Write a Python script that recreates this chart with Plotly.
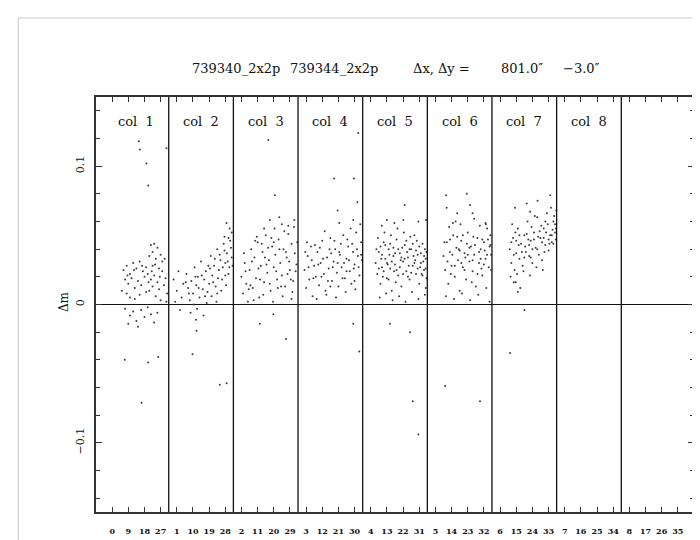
import plotly.graph_objects as go

# ---------------- data ----------------
# Each panel: list of (offset within panel [0..4], delta_m)
panel1 = [
    (2.15, 0.118), (2.21, 0.112), (2.62, 0.102), (2.73, 0.086), (3.86, 0.113),
    (1.28, -0.040), (2.73, -0.042), (3.35, -0.038), (2.32, -0.071),
    (2.9, 0.043), (3.1, 0.044), (3.3, 0.041), (3.0, 0.038), (3.5, 0.036), (2.8, 0.035),
    (3.6, 0.031), (3.2, 0.033),
    (1.2, 0.025), (1.4, 0.028), (1.6, 0.022), (1.8, 0.030), (2.0, 0.026), (2.2, 0.031),
    (2.4, 0.024), (1.3, 0.018), (1.5, 0.015), (1.7, 0.019), (1.9, 0.012), (2.1, 0.017),
    (2.3, 0.014), (2.5, 0.020), (1.1, 0.010), (1.4, 0.008), (1.6, 0.005), (1.9, 0.004),
    (2.2, 0.007), (2.6, 0.009),
    (2.7, 0.022), (2.9, 0.018), (3.0, 0.013), (3.1, 0.021), (3.3, 0.016), (3.4, 0.011),
    (3.6, 0.024), (3.8, 0.019), (3.9, 0.008), (2.8, 0.010), (3.2, 0.006), (3.5, 0.003),
    (3.7, 0.014), (2.6, 0.027), (3.0, 0.028), (3.4, 0.026), (3.85, 0.002),
    (1.3, -0.003), (1.6, -0.008), (1.8, -0.005), (2.0, -0.012), (2.3, -0.004),
    (2.5, -0.009), (2.7, -0.002), (2.9, -0.007), (3.1, -0.013), (3.3, -0.006),
    (1.5, -0.014), (2.1, -0.016),
    (1.45, 0.021), (1.85, 0.025), (2.35, 0.028), (2.75, 0.016), (3.15, 0.029),
    (3.45, 0.020), (3.75, 0.033), (2.95, 0.024),
]
panel2 = [
    (3.58, 0.059), (3.77, 0.055), (1.47, -0.036), (1.72, -0.019), (1.68, -0.011),
    (3.16, -0.058), (3.58, -0.057),
    (0.3, 0.018), (0.5, 0.010), (0.6, 0.024), (0.8, 0.005), (0.9, 0.015), (0.4, 0.002),
    (0.7, -0.004),
    (1.1, 0.022), (1.2, 0.012), (1.3, 0.003), (1.4, 0.017), (1.5, 0.008), (1.6, 0.027),
    (1.7, 0.014), (1.8, 0.020), (1.9, 0.005), (2.0, 0.031), (2.1, 0.011), (2.2, 0.018),
    (2.3, 0.024), (2.4, 0.009), (2.5, 0.015), (1.35, -0.006), (1.75, -0.003),
    (2.15, -0.008), (1.55, 0.000), (2.35, 0.001),
    (2.6, 0.035), (2.7, 0.021), (2.8, 0.028), (2.9, 0.013), (3.0, 0.040), (3.1, 0.025),
    (3.2, 0.032), (3.3, 0.018), (3.4, 0.044), (3.5, 0.030), (3.6, 0.037), (3.7, 0.022),
    (3.8, 0.046), (3.9, 0.034), (3.25, 0.010), (3.55, 0.014), (3.75, 0.027),
    (2.65, 0.006), (2.95, 0.002), (3.45, 0.039), (3.85, 0.041),
    (2.55, 0.026), (2.75, 0.016), (2.85, 0.033), (3.05, 0.019), (3.15, 0.036),
    (3.35, 0.027), (3.65, 0.031), (3.95, 0.028), (3.0, 0.008), (3.5, 0.021),
    (1.85, 0.012), (2.05, 0.021), (2.25, 0.006), (2.45, 0.028), (1.65, 0.020),
    (1.25, 0.008), (1.05, 0.016), (3.7, 0.048), (3.9, 0.052), (3.45, 0.049),
]
panel3 = [
    (2.16, 0.119), (2.57, 0.079), (2.26, 0.061), (2.84, 0.063), (3.40, 0.057),
    (3.77, 0.061), (1.64, -0.014), (2.47, -0.007), (3.25, -0.025),
    (0.5, 0.020), (0.6, 0.008), (0.7, 0.030), (0.8, 0.015), (0.9, 0.002), (1.0, 0.025),
    (1.1, 0.040), (1.2, 0.012), (1.3, 0.034), (1.4, 0.019), (1.5, 0.045), (1.6, 0.005),
    (1.7, 0.028), (1.8, 0.038), (1.9, 0.016), (2.0, 0.050), (2.1, 0.023), (2.2, 0.032),
    (2.3, 0.010), (2.4, 0.042), (2.5, 0.027), (2.6, 0.036), (2.7, 0.018), (2.8, 0.047),
    (2.9, 0.030), (3.0, 0.021), (3.1, 0.040), (3.2, 0.013), (3.3, 0.034), (3.4, 0.051),
    (3.5, 0.025), (3.6, 0.044), (3.7, 0.017), (3.8, 0.037), (3.9, 0.029),
    (1.25, 0.003), (1.85, 0.007), (2.45, 0.002), (3.05, 0.006), (3.65, 0.009),
    (1.55, 0.026), (2.15, 0.041), (2.75, 0.012), (3.35, 0.022), (3.95, 0.045),
    (1.05, 0.014), (2.55, 0.055), (3.15, 0.053), (3.75, 0.056), (2.35, 0.048),
    (0.65, 0.037), (1.45, 0.049),
    (0.75, 0.024), (0.95, 0.011), (1.15, 0.031), (1.35, 0.046), (1.65, 0.018),
    (1.95, 0.034), (2.05, 0.029), (2.25, 0.015), (2.65, 0.024), (2.85, 0.040),
    (2.95, 0.013), (3.25, 0.038), (3.45, 0.031), (3.55, 0.018), (3.85, 0.024),
    (2.5, 0.045), (1.75, 0.044), (3.0, 0.058), (1.9, 0.055), (3.6, 0.004),
]
panel4 = [
    (3.73, 0.124), (2.23, 0.091), (3.46, 0.091), (3.67, 0.074), (2.45, 0.068),
    (3.42, 0.061), (2.55, 0.059), (3.42, -0.014), (3.79, -0.034),
    (0.4, 0.025), (0.5, 0.012), (0.6, 0.035), (0.7, 0.018), (0.8, 0.042), (0.9, 0.006),
    (1.0, 0.028), (1.1, 0.020), (1.2, 0.038), (1.3, 0.014), (1.4, 0.030), (1.5, 0.046),
    (1.6, 0.022), (1.7, 0.010), (1.8, 0.034), (1.9, 0.026), (2.0, 0.048), (2.1, 0.017),
    (2.2, 0.031), (2.3, 0.040), (2.4, 0.023), (2.5, 0.013), (2.6, 0.036), (2.7, 0.027),
    (2.8, 0.050), (2.9, 0.019), (3.0, 0.033), (3.1, 0.042), (3.2, 0.024), (3.3, 0.015),
    (3.4, 0.038), (3.5, 0.029), (3.6, 0.052), (3.7, 0.035), (3.8, 0.021), (3.9, 0.045),
    (3.95, 0.032), (1.15, 0.004), (1.75, 0.007), (2.35, 0.005), (2.95, 0.009),
    (3.55, 0.011), (0.85, 0.032), (1.45, 0.020), (2.05, 0.037), (2.65, 0.044),
    (3.25, 0.055), (3.85, 0.058), (1.65, 0.053), (3.05, 0.047), (0.55, 0.045),
    (2.45, 0.030), (3.45, 0.026),
    (0.45, 0.038), (0.65, 0.027), (0.95, 0.019), (1.05, 0.043), (1.25, 0.029),
    (1.35, 0.041), (1.55, 0.033), (1.85, 0.017), (1.95, 0.040), (2.15, 0.027),
    (2.25, 0.046), (2.55, 0.038), (2.75, 0.019), (2.85, 0.030), (3.15, 0.032),
    (3.35, 0.044), (3.5, 0.017), (3.65, 0.040), (3.75, 0.027), (3.9, 0.036),
    (2.0, 0.013), (3.0, 0.024),
]
panel5 = [
    (2.60, 0.072), (1.18, 0.057), (1.49, 0.061), (1.96, 0.059), (2.52, 0.061),
    (3.45, 0.060), (3.92, 0.061), (1.69, -0.014), (2.93, -0.020), (3.10, -0.070),
    (3.45, -0.094),
    (0.8, 0.030), (0.9, 0.022), (1.0, 0.038), (1.1, 0.015), (1.2, 0.027), (1.3, 0.045),
    (1.4, 0.033), (1.5, 0.019), (1.6, 0.040), (1.7, 0.026), (1.8, 0.010), (1.9, 0.035),
    (2.0, 0.029), (2.1, 0.047), (2.2, 0.021), (2.3, 0.037), (2.4, 0.013), (2.5, 0.031),
    (2.6, 0.043), (2.7, 0.024), (2.8, 0.034), (2.9, 0.018), (3.0, 0.040), (3.1, 0.028),
    (3.2, 0.050), (3.3, 0.022), (3.4, 0.036), (3.5, 0.015), (3.6, 0.030), (3.7, 0.044),
    (3.8, 0.025), (3.9, 0.033), (3.95, 0.019),
    (1.05, 0.005), (1.45, 0.008), (1.85, 0.003), (2.25, 0.006), (2.65, 0.002),
    (3.05, 0.009), (3.45, 0.004), (3.85, 0.007),
    (1.15, 0.033), (1.55, 0.029), (1.95, 0.024), (2.35, 0.032), (2.75, 0.038),
    (3.15, 0.035), (3.55, 0.027), (3.75, 0.031), (1.25, 0.020), (1.65, 0.036),
    (2.05, 0.016), (2.45, 0.041), (2.85, 0.028), (3.25, 0.032), (3.65, 0.022),
    (1.35, 0.052), (2.15, 0.055), (2.95, 0.049), (3.35, 0.046), (0.95, 0.048),
    (1.75, 0.050), (2.55, 0.052), (3.85, 0.040), (3.9, 0.012),
    (0.85, 0.040), (1.0, 0.026), (1.1, 0.042), (1.2, 0.036), (1.3, 0.024), (1.4, 0.043),
    (1.5, 0.030), (1.6, 0.018), (1.7, 0.044), (1.8, 0.031), (1.9, 0.041), (2.0, 0.037),
    (2.1, 0.025), (2.2, 0.040), (2.3, 0.027), (2.4, 0.034), (2.5, 0.022), (2.6, 0.033),
    (2.7, 0.046), (2.8, 0.020), (2.9, 0.040), (3.0, 0.023), (3.1, 0.044), (3.2, 0.030),
    (3.3, 0.039), (3.4, 0.026), (3.5, 0.042), (3.6, 0.037), (3.7, 0.021), (3.8, 0.035),
    (3.9, 0.026), (3.95, 0.038),
]
panel6 = [
    (1.16, 0.079), (2.44, 0.080), (1.20, 0.070), (2.64, 0.072), (1.10, -0.059),
    (3.26, -0.070), (2.80, 0.066), (1.58, 0.059), (3.63, 0.058),
    (1.0, 0.035), (1.1, 0.025), (1.2, 0.045), (1.3, 0.015), (1.4, 0.038), (1.5, 0.028),
    (1.6, 0.050), (1.7, 0.020), (1.8, 0.041), (1.9, 0.032), (2.0, 0.010), (2.1, 0.046),
    (2.2, 0.027), (2.3, 0.037), (2.4, 0.018), (2.5, 0.052), (2.6, 0.031), (2.7, 0.042),
    (2.8, 0.024), (2.9, 0.036), (3.0, 0.013), (3.1, 0.048), (3.2, 0.030), (3.3, 0.040),
    (3.4, 0.021), (3.5, 0.045), (3.6, 0.033), (3.7, 0.055), (3.8, 0.027), (3.9, 0.043),
    (3.95, 0.036),
    (1.15, 0.006), (1.65, 0.004), (2.15, 0.008), (2.65, 0.003), (3.15, 0.007),
    (3.65, 0.012), (3.85, 0.002),
    (1.35, 0.056), (1.75, 0.060), (2.05, 0.058), (2.45, 0.044), (2.85, 0.049),
    (3.25, 0.057), (3.55, 0.039), (3.75, 0.047), (1.45, 0.022), (1.95, 0.040),
    (2.35, 0.034), (2.75, 0.016), (3.35, 0.026), (3.9, 0.050),
    (1.85, 0.066), (2.9, 0.062), (3.6, 0.059),
    (1.05, 0.045), (1.25, 0.031), (1.4, 0.047), (1.55, 0.036), (1.7, 0.028),
    (1.85, 0.049), (2.0, 0.039), (2.2, 0.050), (2.3, 0.025), (2.5, 0.036),
    (2.6, 0.041), (2.8, 0.032), (2.95, 0.043), (3.1, 0.022), (3.2, 0.038),
    (3.4, 0.047), (3.5, 0.029), (3.7, 0.036), (3.85, 0.042), (3.95, 0.025),
    (2.1, 0.030), (3.3, 0.033),
]
panel7 = [
    (3.60, 0.079), (2.82, 0.075), (2.15, 0.073), (1.43, 0.070), (2.36, 0.067),
    (3.98, 0.068), (1.12, -0.035), (2.01, -0.004), (1.47, 0.016), (1.60, 0.009),
    (1.1, 0.040), (1.2, 0.030), (1.3, 0.048), (1.4, 0.025), (1.5, 0.037), (1.6, 0.055),
    (1.7, 0.033), (1.8, 0.044), (1.9, 0.028), (2.0, 0.050), (2.1, 0.038), (2.2, 0.060),
    (2.3, 0.035), (2.4, 0.046), (2.5, 0.030), (2.6, 0.052), (2.7, 0.041), (2.8, 0.063),
    (2.9, 0.036), (3.0, 0.048), (3.1, 0.032), (3.2, 0.055), (3.3, 0.043), (3.4, 0.066),
    (3.5, 0.039), (3.6, 0.050), (3.7, 0.045), (3.8, 0.060), (3.9, 0.052), (3.95, 0.047),
    (1.15, 0.020), (1.35, 0.016), (1.55, 0.022), (1.75, 0.012), (1.95, 0.024),
    (2.35, 0.021), (2.75, 0.027), (3.15, 0.025),
    (1.25, 0.058), (1.65, 0.043), (2.05, 0.042), (2.45, 0.056), (2.85, 0.049),
    (3.25, 0.038), (3.45, 0.058), (3.65, 0.070), (3.85, 0.064), (1.45, 0.052),
    (2.25, 0.047), (3.05, 0.057), (3.75, 0.054), (2.65, 0.064), (3.55, 0.044),
    (1.2, 0.045), (1.35, 0.036), (1.5, 0.046), (1.7, 0.050), (1.85, 0.038),
    (2.0, 0.034), (2.15, 0.051), (2.3, 0.043), (2.5, 0.040), (2.6, 0.047),
    (2.8, 0.040), (2.95, 0.053), (3.1, 0.045), (3.2, 0.048), (3.35, 0.052),
    (3.5, 0.047), (3.7, 0.050), (3.8, 0.044), (3.9, 0.058), (3.95, 0.055),
    (3.3, 0.060), (2.4, 0.034),
]
panel8 = []
panel9 = []
panels = [panel1, panel2, panel3, panel4, panel5, panel6, panel7, panel8, panel9]

panel_labels = ["col  1", "col  2", "col  3", "col  4", "col  5",
                "col  6", "col  7", "col  8", ""]
# tick labels: 4 per panel, panel k -> k, k+9, k+18, k+27
x_tick_labels = ["0", "9", "18", "27", "1", "10", "19", "28", "2", "11", "20", "29",
                 "3", "12", "21", "30", "4", "13", "22", "31", "5", "14", "23", "32",
                 "6", "15", "24", "33", "7", "16", "25", "34", "8", "17", "26", "35"]
title_parts = ["739340_2x2p", "739344_2x2p", "Δx, Δy =", "801.0″", "−3.0″"]
title_px = [236, 335, 443, 523, 583]

# ---------------- figure ----------------
xs, ys = [], []
for k, pts in enumerate(panels):
    for off, dm in pts:
        xs.append(4 * k - 0.5 + off)
        ys.append(dm)

fig = go.Figure()
fig.add_trace(go.Scatter(x=xs, y=ys, mode="markers",
                         marker=dict(size=2.0, color="#3c3c3c", line=dict(width=0)),
                         hoverinfo="skip", showlegend=False))

# page body has an 8px margin: figure pixel = page pixel - 8
OFF = 8
W, H = 700 - OFF, 540 - OFF
L, R = 96 - OFF, 4
T, B = 97 - OFF, 28
pw, ph = W - L - R, H - T - B

def px2paper_x(px):
    return (px - OFF - L) / pw

def px2paper_y(py):
    return (H - B - (py - OFF)) / ph

shapes = []
for i in range(1, 9):
    shapes.append(dict(type="line", xref="x", yref="paper", x0=4 * i - 0.5, x1=4 * i - 0.5,
                       y0=0, y1=1, line=dict(color="#111111", width=1.3)))
# light page border
shapes.append(dict(type="line", xref="paper", yref="paper",
                   x0=px2paper_x(18), x1=px2paper_x(700), y0=px2paper_y(18), y1=px2paper_y(18),
                   line=dict(color="#c8c8c8", width=1)))
shapes.append(dict(type="line", xref="paper", yref="paper",
                   x0=px2paper_x(18), x1=px2paper_x(18), y0=px2paper_y(18), y1=px2paper_y(540),
                   line=dict(color="#c8c8c8", width=1)))

font_main = "DejaVu Serif"
annotations = []
for txt, px in zip(title_parts, title_px):
    annotations.append(dict(text=txt, xref="paper", yref="paper", x=px2paper_x(px),
                            y=px2paper_y(69), showarrow=False, xanchor="center",
                            yanchor="middle", font=dict(family=font_main, size=13, color="#111")))
for k, lab in enumerate(panel_labels):
    if lab:
        annotations.append(dict(text=lab, xref="x", yref="paper", x=4 * k + 1.5,
                                y=px2paper_y(121), showarrow=False, xanchor="center",
                                yanchor="middle", font=dict(family=font_main, size=13, color="#111")))
annotations.append(dict(text="Δm", xref="paper", yref="paper", x=px2paper_x(64),
                        y=px2paper_y(302), showarrow=False, textangle=-90,
                        xanchor="center", yanchor="middle",
                        font=dict(family=font_main, size=12, color="#111")))

fig.update_layout(
    width=W, height=H, margin=dict(l=L, r=R, t=T, b=B),
    paper_bgcolor="white", plot_bgcolor="white",
    shapes=shapes, annotations=annotations, showlegend=False,
    xaxis=dict(range=[-1, 36], tickmode="array", tickvals=list(range(36)),
               ticktext=x_tick_labels, ticks="inside", ticklen=5, tickwidth=1,
               tickcolor="#333", showline=True, linecolor="#333", linewidth=1.5,
               mirror="ticks", showgrid=False, zeroline=False,
               tickfont=dict(family=font_main, size=8, color="#111", weight="bold"),
               ticklabelstandoff=11),
    yaxis=dict(range=[-0.15, 0.15], tick0=0, dtick=0.1, ticks="inside", ticklen=6,
               tickwidth=1, tickcolor="#333", tickangle=-90,
               minor=dict(dtick=0.02, tick0=0, ticks="inside", ticklen=4, tickcolor="#333"),
               showline=True, linecolor="#333", linewidth=1.5, mirror="ticks",
               showgrid=False, zeroline=True, zerolinecolor="#111", zerolinewidth=1.2,
               tickfont=dict(family=font_main, size=11, color="#111"),
               ticklabelstandoff=6),
)

fig.write_html("out.html")
